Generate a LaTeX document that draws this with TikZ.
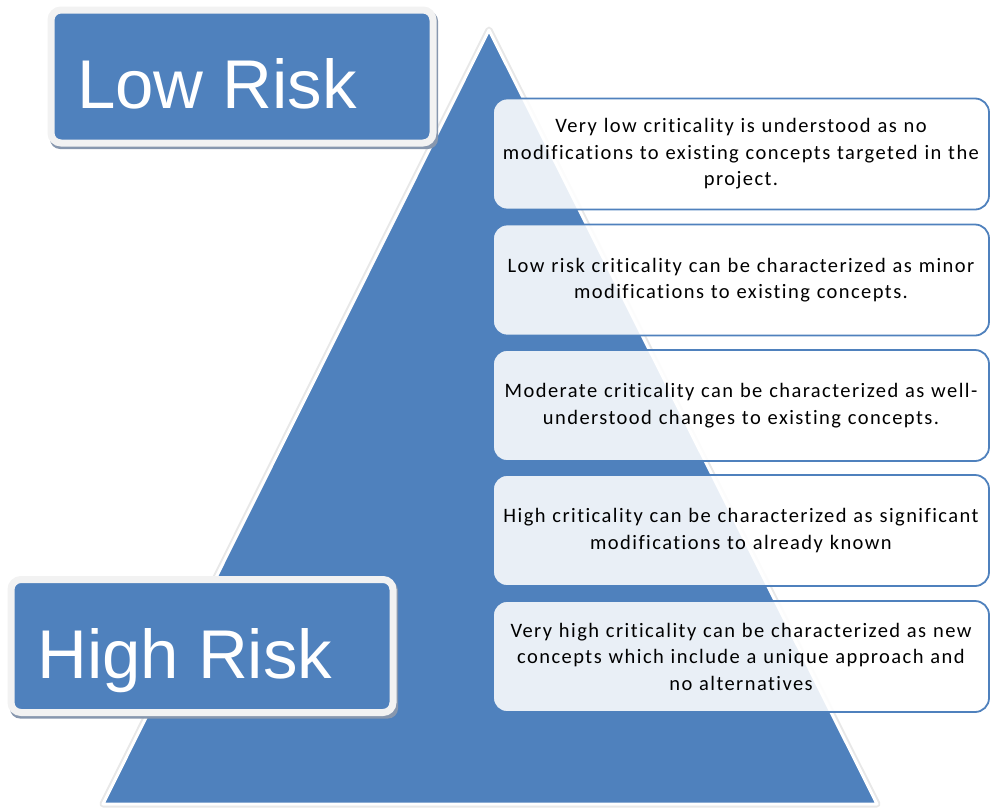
\documentclass[tikz,border=0pt]{standalone}
\usepackage{fontspec}
\setmainfont{Carlito}
\newfontfamily\levelfont[LetterSpace=7,Ligatures=NoCommon]{Carlito}
\newfontfamily\labelfont{Liberation Sans}
\definecolor{riskblue}{HTML}{4F81BD}
\definecolor{rimgray}{HTML}{F2F2F2}
\definecolor{shadowblue}{HTML}{8797AE}

\begin{document}
\begin{tikzpicture}
[x=1pt, y=-1pt,
 riskbox/.style={rectangle, rounded corners=10pt, fill=riskblue, draw=rimgray, line width=7pt, minimum width=382pt, minimum height=133pt, inner sep=0pt},
 riskshadow/.style={rectangle, rounded corners=10pt, fill=shadowblue, minimum width=388pt, minimum height=138pt, inner sep=0pt},
 risklabel/.style={anchor=base west, inner sep=0pt, text=white, font=\labelfont\fontsize{69}{69}\selectfont},
 levelbox/.style={rectangle, rounded corners=14pt, fill=white, fill opacity=0.88, text opacity=1, draw=riskblue, line width=1.8pt, minimum width=496pt, minimum height=111pt, text width=490pt, align=center, inner sep=0pt, font=\levelfont\fontsize{20.5}{26.5}\selectfont}]
\useasboundingbox (0,0) rectangle (992,809);

% pyramid with its soft rim
\draw [black!9, line width=7pt, line join=round] (489,30) -- (877,804) -- (103,804) -- cycle;
\filldraw [fill=riskblue, draw=white, line width=3pt, line join=round] (489,30) -- (877,804) -- (103,804) -- cycle;

% risk labels
\node (lowshadow) [riskshadow] at (244,80) {};
\node (lowrisk) [riskbox] at (242,76.5) {};
\node (lowlabel) [risklabel] at (77,108) {Low Risk};

\node (highshadow) [riskshadow] at (204,649.5) {};
\node (highrisk) [riskbox] at (202,646) {};
\node (highlabel) [risklabel] at (37,678) {High Risk};

% criticality levels
\node (level1) [levelbox] at (741,154) {Very low criticality is understood as no\\ modifications to existing concepts targeted in the\\ project.};
\node (level2) [levelbox] at (741,280) {Low risk criticality can be characterized as minor\\ modifications to existing concepts.};
\node (level3) [levelbox] at (741,405.5) {Moderate criticality can be characterized as well-\\ understood changes to existing concepts.};
\node (level4) [levelbox] at (741,530.5) {High criticality can be characterized as significant\\ modifications to already known};
\node (level5) [levelbox] at (741,656.5) {Very high criticality can be characterized as new\\ concepts which include a unique approach and\\ no alternatives};
\end{tikzpicture}
\end{document}
